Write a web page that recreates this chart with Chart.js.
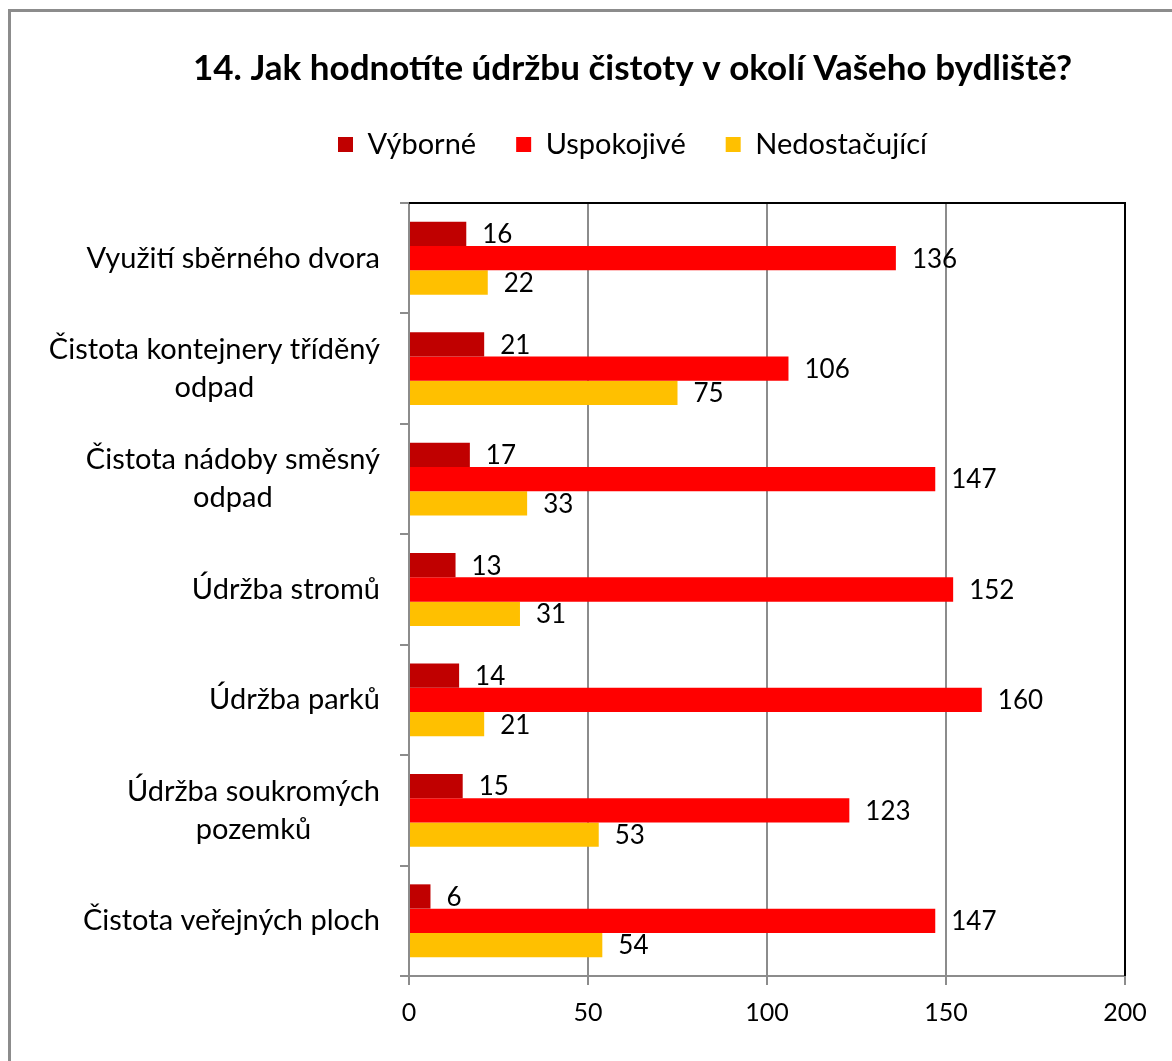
<!DOCTYPE html>
<html>
<head>
<meta charset="utf-8">
<script src="https://cdn.jsdelivr.net/npm/chart.js@4"></script>
<style>
  html, body { margin: 0; padding: 0; background: #fff; }
  #wrap { width: 1172px; height: 1061px; position: relative; }
</style>
</head>
<body>
<div id="wrap"><canvas id="c" width="1172" height="1061"></canvas></div>
<script>
// --- data ---
const categories = [
    ['Využití sběrného dvora'],
    ['Čistota kontejnery tříděný', 'odpad'],
    ['Čistota nádoby směsný', 'odpad'],
    ['Údržba stromů'],
    ['Údržba parků'],
    ['Údržba soukromých', 'pozemků'],
    ['Čistota veřejných ploch']
];
const vyborne = [16, 21, 17, 13, 14, 15, 6];
const uspokojive = [136, 106, 147, 152, 160, 123, 147];
const nedostacujici = [22, 75, 33, 31, 21, 53, 54];
const xTicks = [0, 50, 100, 150, 200];

const FONT = 'Lato, "Open Sans", sans-serif';

// outer frame, plot border, y labels and value labels
const decor = {
    id: 'decor',
    beforeDraw(chart) {
        const ctx = chart.ctx;
        ctx.save();
        ctx.fillStyle = '#fff';
        ctx.fillRect(0, 0, chart.width, chart.height);
        ctx.strokeStyle = '#8c8c8c';
        ctx.lineWidth = 3;
        ctx.strokeRect(9.5, 10.5, 2000, 2000);
        ctx.restore();
    },
    afterDraw(chart) {
        const ctx = chart.ctx;
        const a = chart.chartArea;
        ctx.save();
        // black top and right border of plot area
        ctx.strokeStyle = '#000';
        ctx.lineWidth = 2;
        ctx.beginPath();
        ctx.moveTo(a.left, a.top);
        ctx.lineTo(a.right, a.top);
        ctx.lineTo(a.right, a.bottom);
        ctx.stroke();

        // category labels: right aligned block, lines centered
        const y = chart.scales.y;
        ctx.font = '29px ' + FONT;
        ctx.fillStyle = '#000';
        ctx.textAlign = 'center';
        ctx.textBaseline = 'middle';
        const lh = 38;
        categories.forEach((lines, i) => {
            const cy = y.getPixelForTick(i);
            const w = Math.max(...lines.map(l => ctx.measureText(l).width));
            const cx = 380 - w / 2;
            lines.forEach((l, j) => {
                ctx.fillText(l, cx, cy + (j - (lines.length - 1) / 2) * lh);
            });
        });

        // value labels
        ctx.font = '26px ' + FONT;
        ctx.textAlign = 'left';
        chart.data.datasets.forEach((ds, di) => {
            chart.getDatasetMeta(di).data.forEach((bar, i) => {
                ctx.fillText(String(ds.data[i]), bar.x + 16, bar.y + 1);
            });
        });
        ctx.restore();
    }
};

new Chart(document.getElementById('c'), {
    type: 'bar',
    data: {
        labels: categories,
        datasets: [
            { label: 'Výborné', data: vyborne, backgroundColor: '#c00000' },
            { label: 'Uspokojivé', data: uspokojive, backgroundColor: '#ff0000' },
            { label: 'Nedostačující', data: nedostacujici, backgroundColor: '#ffc000' }
        ]
    },
    options: {
        indexAxis: 'y',
        responsive: false,
        animation: false,
        datasets: { bar: { categoryPercentage: 0.66, barPercentage: 1 } },
        layout: { padding: { left: 140, right: 47, top: 0, bottom: 0 } },
        scales: {
            x: {
                min: 0, max: 200,
                afterBuildTicks: s => { s.ticks = xTicks.map(v => ({ value: v })); },
                afterFit: s => { s.height = 1061 - 976; },
                grid: {
                    color: '#8c8c8c', lineWidth: 2, tickLength: 9
                },
                border: { color: '#8c8c8c', width: 2 },
                ticks: { color: '#000', font: { family: FONT, size: 25 }, padding: 13 }
            },
            // empty spacer between legend and plot area
            xTop: {
                type: 'linear',
                position: 'top',
                min: 0, max: 200,
                afterFit: s => { s.height = 34; },
                grid: { display: false },
                border: { display: false },
                ticks: { display: false }
            },
            y: {
                afterFit: s => { s.width = 409 - 140; },
                grid: {
                    drawOnChartArea: false, color: '#8c8c8c', lineWidth: 2, tickLength: 9
                },
                border: { color: '#8c8c8c', width: 2 },
                ticks: { display: false }
            }
        },
        plugins: {
            tooltip: { enabled: false },
            title: {
                display: true,
                text: '14. Jak hodnotíte údržbu čistoty v okolí Vašeho bydliště?',
                color: '#000',
                font: { family: FONT, size: 35, weight: 'bold' },
                padding: { top: 48, bottom: 0 }
            },
            legend: {
                labels: {
                    color: '#000',
                    font: { family: FONT, size: 29 },
                    boxWidth: 15, boxHeight: 15,
                    padding: 40
                }
            }
        }
    },
    plugins: [decor]
});
</script>
</body>
</html>
